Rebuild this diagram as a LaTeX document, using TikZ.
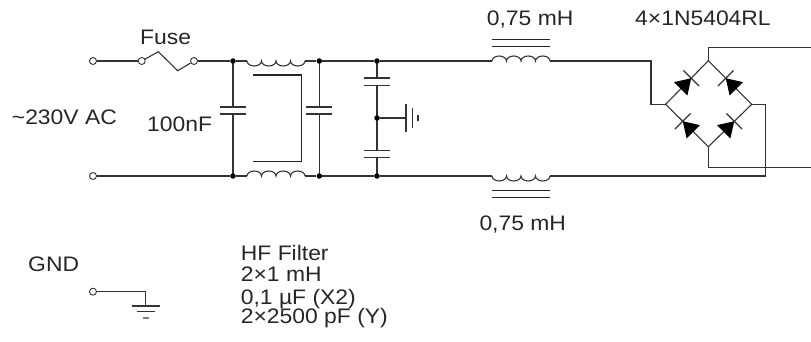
\documentclass[tikz,border=0pt]{standalone}
\usepackage{fontspec}
\setmainfont{Liberation Sans}[FakeStretch=1.09]
\begin{document}
\begin{tikzpicture}[x=1pt,y=-1pt,
  wire/.style={line width=1.1pt, draw=black!80},
  core/.style={line width=1.2pt, draw=black!85},
  plate/.style={line width=1.2pt, draw=black!80},
  dot/.style={circle, fill=black, inner sep=0pt, minimum size=5.5pt},
  term/.style={circle, draw=black!80, line width=0.9pt, fill=white, inner sep=0pt, minimum size=7pt},
  lbl/.style={inner sep=0pt, anchor=base west, text=black!85, font=\fontsize{21}{24}\selectfont},
  coil down/.pic={\draw[wire] (0,0) arc[start angle=180,end angle=360,x radius=7.25pt,y radius=5pt] arc[start angle=180,end angle=360,x radius=7.25pt,y radius=5pt] arc[start angle=180,end angle=360,x radius=7.25pt,y radius=5pt] arc[start angle=180,end angle=360,x radius=7.25pt,y radius=5pt];},
  coil up/.pic={\draw[wire] (0,0) arc[start angle=180,end angle=0,x radius=7.25pt,y radius=5pt] arc[start angle=180,end angle=0,x radius=7.25pt,y radius=5pt] arc[start angle=180,end angle=0,x radius=7.25pt,y radius=5pt] arc[start angle=180,end angle=0,x radius=7.25pt,y radius=5pt];},
]
\useasboundingbox (0,0) rectangle (811,342);

% coordinates
\coordinate (L1s) at (247,61);  \coordinate (L1e) at (305,61);
\coordinate (L2s) at (247,176); \coordinate (L2e) at (305,176);
\coordinate (L3s) at (492,61);  \coordinate (L3e) at (550,61);
\coordinate (L4s) at (492,176); \coordinate (L4e) at (550,176);
\coordinate (BL) at (665.7,104.3);
\coordinate (BT) at (708.3,60.7);
\coordinate (BR) at (751.7,104.3);
\coordinate (BB) at (708.3,146.7);
\coordinate (outP) at (811,47.3);
\coordinate (outN) at (811,167.7);
\coordinate (fz1) at (158.3,51.7);
\coordinate (fz2) at (177.7,70.7);
\coordinate (gd) at (406,118);
\coordinate (gg) at (145.7,306);

% coils
\pic at (L1s) {coil down};
\pic at (L2s) {coil up};
\pic at (L3s) {coil up};
\pic at (L4s) {coil down};

% capacitors X
\draw[wire] (233,61) -- (233,107) (233,114) -- (233,176);
\draw[plate] (220,107) -- (246,107) (220,114) -- (246,114);
\draw[wire] (319.3,61) -- (319.3,107) (319.3,114) -- (319.3,176);
\draw[plate] (306.3,107) -- (332.3,107) (306.3,114) -- (332.3,114);
% capacitors Y
\draw[wire] (377,61) -- (377,78) (377,85.7) -- (377,150.7) (377,157.7) -- (377,176);
\draw[plate] (364,78) -- (390,78) (364,85.7) -- (390,85.7) (364,150.7) -- (390,150.7) (364,157.7) -- (390,157.7);

% nodes
\node[term] (t1) at (93,61) {};
\node[term] (t2) at (93,176) {};
\node[term] (f1) at (141.7,61) {};
\node[term] (f2) at (194,61) {};
\node[dot] (a1) at (233,61) {};
\node[dot] (a2) at (233,176) {};
\node[dot] (b1) at (319.3,61) {};
\node[dot] (b2) at (319.3,176) {};
\node[dot] (c1) at (377,61) {};
\node[dot] (c2) at (377,176) {};
\node[dot] (c3) at (377,118) {};
\node[term] (g) at (93,291.7) {};

% wires
\draw[wire] (t1) -- (f1);
\draw[wire] (f1) -- (fz1) -- (fz2) -- (f2);
\draw[wire] (f2) -- (a1) -- (L1s);
\draw[wire] (L1e) -- (b1) -- (c1) -- (L3s);
\draw[wire] (L3e) -- (651,61) |- (BL);
\draw[wire] (t2) -- (a2) -- (L2s);
\draw[wire] (L2e) -- (b2) -- (c2) -- (L4s);
\draw[wire] (L4e) -- (765.7,176) |- (BR);
\draw[wire] (BL) -- (BT) -- (BR) -- (BB) -- cycle;
\draw[wire] (BT) -- (708.3,47.3) -- (outP);
\draw[wire] (BB) -- (708.3,167.7) -- (outN);

% chassis ground
\draw[wire] (c3) -- (gd);
\draw[wire] (406,103.7) -- (406,132.3) (412.7,108) -- (412.7,128) (418,115) -- (418,121);

% cores
\draw[core] (252.7,75) -- (301.7,75) -- (301.7,161.7) -- (252.7,161.7);
\draw[core] (492,39.3) -- (550,39.3) (492,46.7) -- (550,46.7);
\draw[core] (492,190.7) -- (550,190.7) (492,197.3) -- (550,197.3);

% diodes
\foreach \x/\y/\a in {687/82.5/45, 730/82.5/135, 687/125.5/135, 730/125.5/45}{
  \begin{scope}[shift={(\x,\y)}, rotate=\a]
    \fill[black] (-9pt,-9.5pt) -- (-9pt,9.5pt) -- (6pt,0pt) -- cycle;
    \draw[wire] (6pt,-11pt) -- (6pt,11pt);
  \end{scope}
}

% GND
\draw[wire] (g) -- (145.7,291.7) -- (gg);
\draw[wire] (131.7,306) -- (159.7,306) (136.7,311.5) -- (154.7,311.5);
\draw[wire, draw=black!50] (142.5,318) -- (149,318);

% labels
\node[lbl] (fuse) at (140,44.5) {Fuse};
\node[lbl] (ac) at (11.7,124.5) {\textasciitilde230V AC};
\node[lbl] (c100) at (147,131.7) {100nF};
\node[lbl] (l3t) at (486.7,25.5) {0,75 mH};
\node[lbl] (br) at (635,25.5) {4×1N5404RL};
\node[lbl] (l4t) at (479.3,230) {0,75 mH};
\node[lbl] (gndt) at (28,271.5) {GND};
\node[lbl] (hf1) at (240.7,260.5) {HF Filter};
\node[lbl] (hf2) at (240.7,281.5) {2×1 mH};
\node[lbl] (hf3) at (240.7,304) {0,1 µF (X2)};
\node[lbl] (hf4) at (240.7,323) {2×2500 pF (Y)};
\end{tikzpicture}
\end{document}
